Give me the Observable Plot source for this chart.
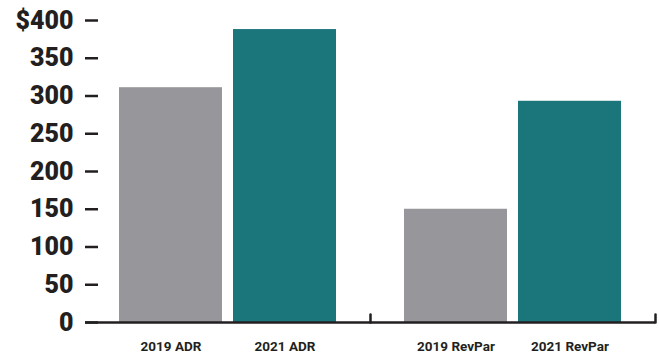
<!DOCTYPE html>
<html>
<head>
<meta charset="utf-8">
<script src="https://cdn.jsdelivr.net/npm/d3@7"></script>
<script src="https://cdn.jsdelivr.net/npm/@observablehq/plot@0.6"></script>
<style>
  html, body { margin: 0; padding: 0; background: #fff; }
  #chart svg { display: block; }
</style>
</head>
<body>
<div id="chart"></div>
<script>
const metrics = ["ADR", "ADR", "RevPar", "RevPar"];
const years = ["2019", "2021", "2019", "2021"];
const values = [311, 388, 150, 293];
const yTicks = [0, 50, 100, 150, 200, 250, 300, 350, 400];
const yTickLabels = ["0", "50", "100", "150", "200", "250", "300", "350", "$400"];
const groupOrder = ["ADR", "RevPar"];
const yearOrder = ["2019", "2021"];
const yearColors = ["#97979b", "#1b767c"];

const data = values.map((v, i) => ({
  metric: metrics[i],
  year: years[i],
  value: v,
  label: `${years[i]} ${metrics[i]}`
}));

const ink = "#231f20";

const chart = Plot.plot({
  width: 659,
  height: 356,
  marginLeft: 84,
  marginRight: 4,
  marginTop: 20,
  marginBottom: 34,
  fx: {domain: groupOrder, padding: 0, axis: null},
  x: {domain: yearOrder, paddingInner: 0.1, paddingOuter: 0.3, axis: null},
  y: {domain: [0, 400], axis: null},
  color: {domain: yearOrder, range: yearColors},
  style: {fontFamily: "Roboto, 'Liberation Sans', sans-serif", color: ink, background: "#fff", overflow: "visible"},
  marks: [
    Plot.barY(data, {fx: "metric", x: "year", y: "value", fill: "year"}),
    Plot.ruleY([0], {stroke: ink, strokeWidth: 2.5}),
    Plot.vector([0], {
      frameAnchor: "bottom-right",
      length: 8,
      rotate: 0,
      anchor: "start",
      stroke: ink,
      strokeWidth: 2.5,
      shape: {draw(ctx, l) { ctx.moveTo(0, 0); ctx.lineTo(0, -l); }}
    }),
    Plot.axisY({
      ticks: yTicks,
      tickFormat: d => yTickLabels[yTicks.indexOf(d)],
      tickSize: -13,
      tickPadding: 25,
      label: null,
      line: true,
      stroke: ink,
      strokeWidth: 2.5,
      fill: ink,
      fontSize: 25,
      fontWeight: 900
    }),
    Plot.text(data, {
      fx: "metric",
      x: "year",
      text: "label",
      frameAnchor: "bottom",
      dy: 28,
      fontSize: 13.5,
      fontWeight: "bold",
      fill: ink
    })
  ]
});

document.getElementById("chart").appendChild(chart);
</script>
</body>
</html>
